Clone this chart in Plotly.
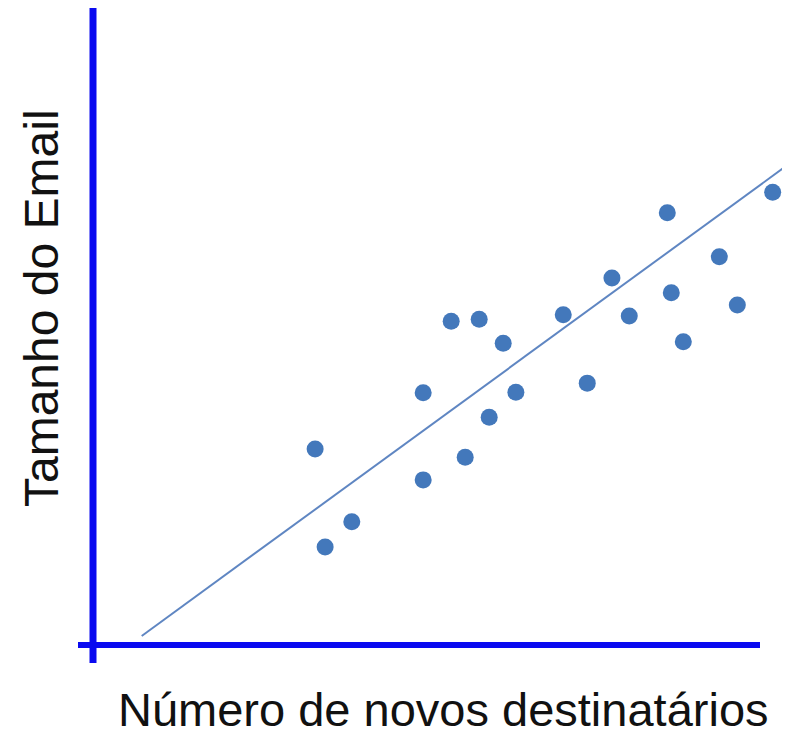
import plotly.graph_objects as go

# Data (arbitrary units)
novos_destinatarios = [3.33, 3.48, 3.88, 4.95, 4.95, 5.37, 5.58, 5.79, 5.94, 6.15, 6.34,
                       7.05, 7.41, 7.78, 8.04, 8.61, 8.67, 8.85, 9.39, 9.66, 10.19]
tamanho_email = [3.04, 1.52, 1.91, 3.91, 2.56, 5.02, 2.91, 5.05, 3.53, 4.68, 3.92,
                 5.12, 4.06, 5.69, 5.10, 6.70, 5.46, 4.70, 6.02, 5.27, 7.02]
linha_x = [0.73, 10.45]
linha_y = [0.14, 7.47]

x_label = "Número de novos destinatários"
y_label = "Tamanho do Email"

PAD = 8  # page body margin
W, H = 790 - PAD, 731 - PAD
kx, ky = 66.7, 64.5
ox, oy = 93 - PAD, 645 - PAD
x_range = [-ox / kx, (W - ox) / kx]
y_range = [-(H - oy) / ky, oy / ky]

fig = go.Figure()
fig.add_trace(go.Scatter(x=linha_x, y=linha_y, mode="lines",
                         line=dict(color="#5f86c2", width=2), hoverinfo="skip"))
fig.add_trace(go.Scatter(x=novos_destinatarios, y=tamanho_email, mode="markers",
                         marker=dict(color="#4378bb", size=17, line=dict(width=0))))

axis_color = "#0a0af0"
fig.add_shape(type="line", xref="x", yref="y", x0=0, x1=0,
              y0=-(663 - 645) / ky, y1=(645 - 7) / ky, line=dict(color=axis_color, width=7))
fig.add_shape(type="line", xref="x", yref="y", x0=-(93 - 78) / kx, x1=(760 - 93) / kx,
              y0=0, y1=0, line=dict(color=axis_color, width=6))

font = dict(family="Liberation Sans, Arial, sans-serif", size=47, color="#111111")
fig.add_annotation(text=x_label, xref="paper", yref="paper", x=(443 - PAD) / W,
                   y=(H - (709 - PAD)) / H,
                   xanchor="center", yanchor="middle", showarrow=False, font=font)
fig.add_annotation(text=y_label, xref="paper", yref="paper", x=(41 - PAD) / W,
                   y=(H - (308 - PAD)) / H,
                   xanchor="center", yanchor="middle", showarrow=False, textangle=-90,
                   font=dict(family="Liberation Sans, Arial, sans-serif", size=48, color="#111111"))

fig.update_layout(width=W, height=H, margin=dict(l=0, r=0, t=0, b=0),
                  paper_bgcolor="white", plot_bgcolor="white", showlegend=False,
                  xaxis=dict(range=x_range, visible=False, fixedrange=True),
                  yaxis=dict(range=y_range, visible=False, fixedrange=True))

fig.write_html("out.html")
